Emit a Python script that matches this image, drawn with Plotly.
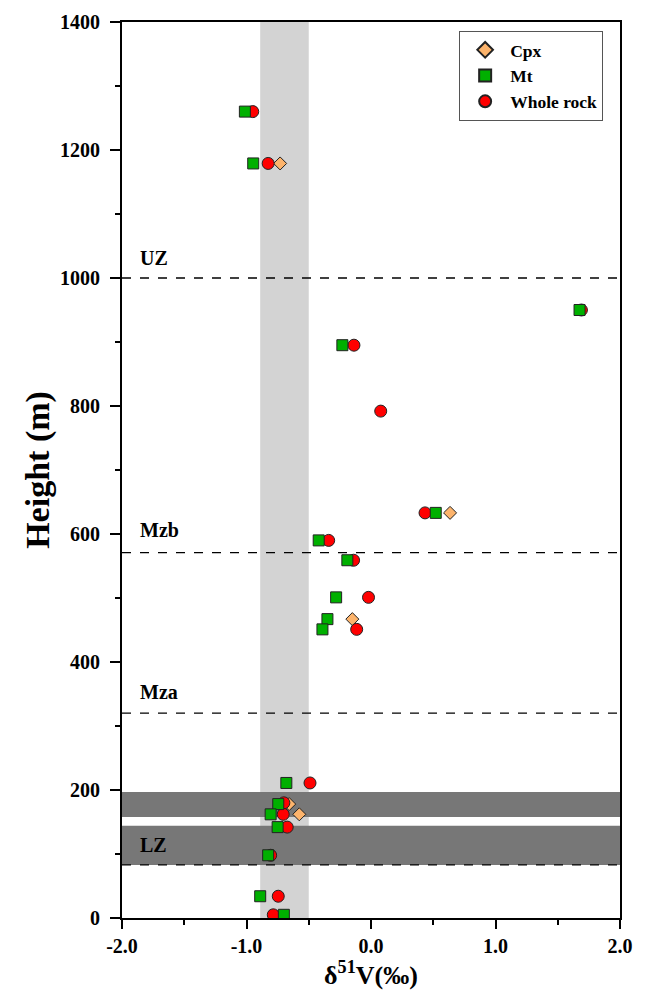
import plotly.graph_objects as go

# ---- data ----
wr_x = [-0.95, -0.826, 1.69, -0.137, 0.078, 0.434, -0.34, -0.14, -0.02, -0.115, -0.49, -0.70, -0.705, -0.673, -0.806, -0.745, -0.785]
wr_y = [1260, 1179, 950, 895, 792, 633, 590, 559, 501, 451, 211, 180, 162, 142, 98, 34, 5]

mt_x = [-1.013, -0.946, 1.675, -0.23, 0.52, -0.42, -0.19, -0.28, -0.35, -0.39, -0.68, -0.745, -0.806, -0.75, -0.826, -0.89, -0.70]
mt_y = [1260, 1179, 950, 895, 633, 590, 559, 501, 467, 451, 211, 178, 162, 142, 98, 34, 5]

cpx_x = [-0.73, 0.635, -0.15, -0.657, -0.576]
cpx_y = [1179, 633, 467, 178, 162]

zone_names = ["UZ", "Mzb", "Mza", "LZ"]
zone_bounds = [1000, 571, 320, 83]
zone_label_y = [1031, 606, 353, 114]

light_band = [-0.89, -0.50]
dark_bands = [(158, 197), (83, 144)]

x_ticks = [-2, -1, 0, 1, 2]
x_ticklabels = ["-2.0", "-1.0", "0.0", "1.0", "2.0"]
y_ticks = [0, 200, 400, 600, 800, 1000, 1200, 1400]

FONT = "Liberation Serif"

fig = go.Figure()

fig.add_trace(go.Scatter(
    x=cpx_x, y=cpx_y, mode="markers", name="Cpx", legendrank=1,
    marker=dict(symbol="diamond", size=10, color="#FDB46C",
                line=dict(color="#222", width=1))))
fig.add_trace(go.Scatter(
    x=wr_x, y=wr_y, mode="markers", name="Whole rock", legendrank=3,
    marker=dict(symbol="circle", size=12, color="#FF0000",
                line=dict(color="#222", width=1))))
fig.add_trace(go.Scatter(
    x=mt_x, y=mt_y, mode="markers", name="Mt", legendrank=2,
    marker=dict(symbol="square", size=11, color="#00B000",
                line=dict(color="#222", width=1))))

shapes = []
shapes.append(dict(type="rect", xref="x", yref="paper", x0=light_band[0], x1=light_band[1],
                   y0=0, y1=1, fillcolor="#D3D3D3", line=dict(width=0), layer="below"))
for b0, b1 in dark_bands:
    shapes.append(dict(type="rect", xref="paper", yref="y", x0=0, x1=1, y0=b0, y1=b1,
                       fillcolor="#777777", line=dict(width=0), layer="below"))
for yb in zone_bounds:
    shapes.append(dict(type="line", xref="paper", yref="y", x0=0, x1=1, y0=yb, y1=yb,
                       line=dict(color="black", width=1.3, dash="dash"), layer="below"))

annotations = []
for name, ly in zip(zone_names, zone_label_y):
    annotations.append(dict(x=-1.87, y=ly, xref="x", yref="y", text=name, showarrow=False,
                            xanchor="left", yanchor="middle",
                            font=dict(family=FONT, size=20, color="black", weight="bold")))

fig.update_layout(
    width=651, height=990,
    margin=dict(l=122, r=31, t=22, b=72),
    plot_bgcolor="white", paper_bgcolor="white",
    shapes=shapes, annotations=annotations,
    showlegend=True,
    legend=dict(x=0.677, y=0.99, xanchor="left", yanchor="top",
                bgcolor="white", bordercolor="#555", borderwidth=1,
                font=dict(family=FONT, size=17.5, color="black", weight="bold"),
                tracegroupgap=0, itemsizing="constant", itemwidth=40),
    xaxis=dict(range=[-2, 2], tickvals=x_ticks, ticktext=x_ticklabels, automargin=False,
               showgrid=False, zeroline=False, showline=True, linecolor="black", linewidth=2,
               mirror=True, ticks="outside", ticklen=9, tickwidth=2, tickcolor="black",
               minor=dict(dtick=0.5, ticks="outside", ticklen=5, tickwidth=2, tickcolor="black"),
               tickfont=dict(family=FONT, size=20, color="black", weight="bold"),
               title=dict(text="δ<sup>51</sup>V(‰)", standoff=6,
                          font=dict(family=FONT, size=26, color="black", weight="bold"))),
    yaxis=dict(range=[0, 1400], tickvals=y_ticks, automargin=False,
               showgrid=False, zeroline=False, showline=True, linecolor="black", linewidth=2,
               mirror=True, ticks="outside", ticklen=10, tickwidth=2, tickcolor="black",
               ticklabelstandoff=6,
               minor=dict(dtick=100, ticks="outside", ticklen=5, tickwidth=2, tickcolor="black"),
               tickfont=dict(family=FONT, size=20, color="black", weight="bold"),
               title=dict(text="Height (m)", standoff=0,
                          font=dict(family=FONT, size=34, color="black", weight="bold"))),
)

fig.write_html("out.html")
